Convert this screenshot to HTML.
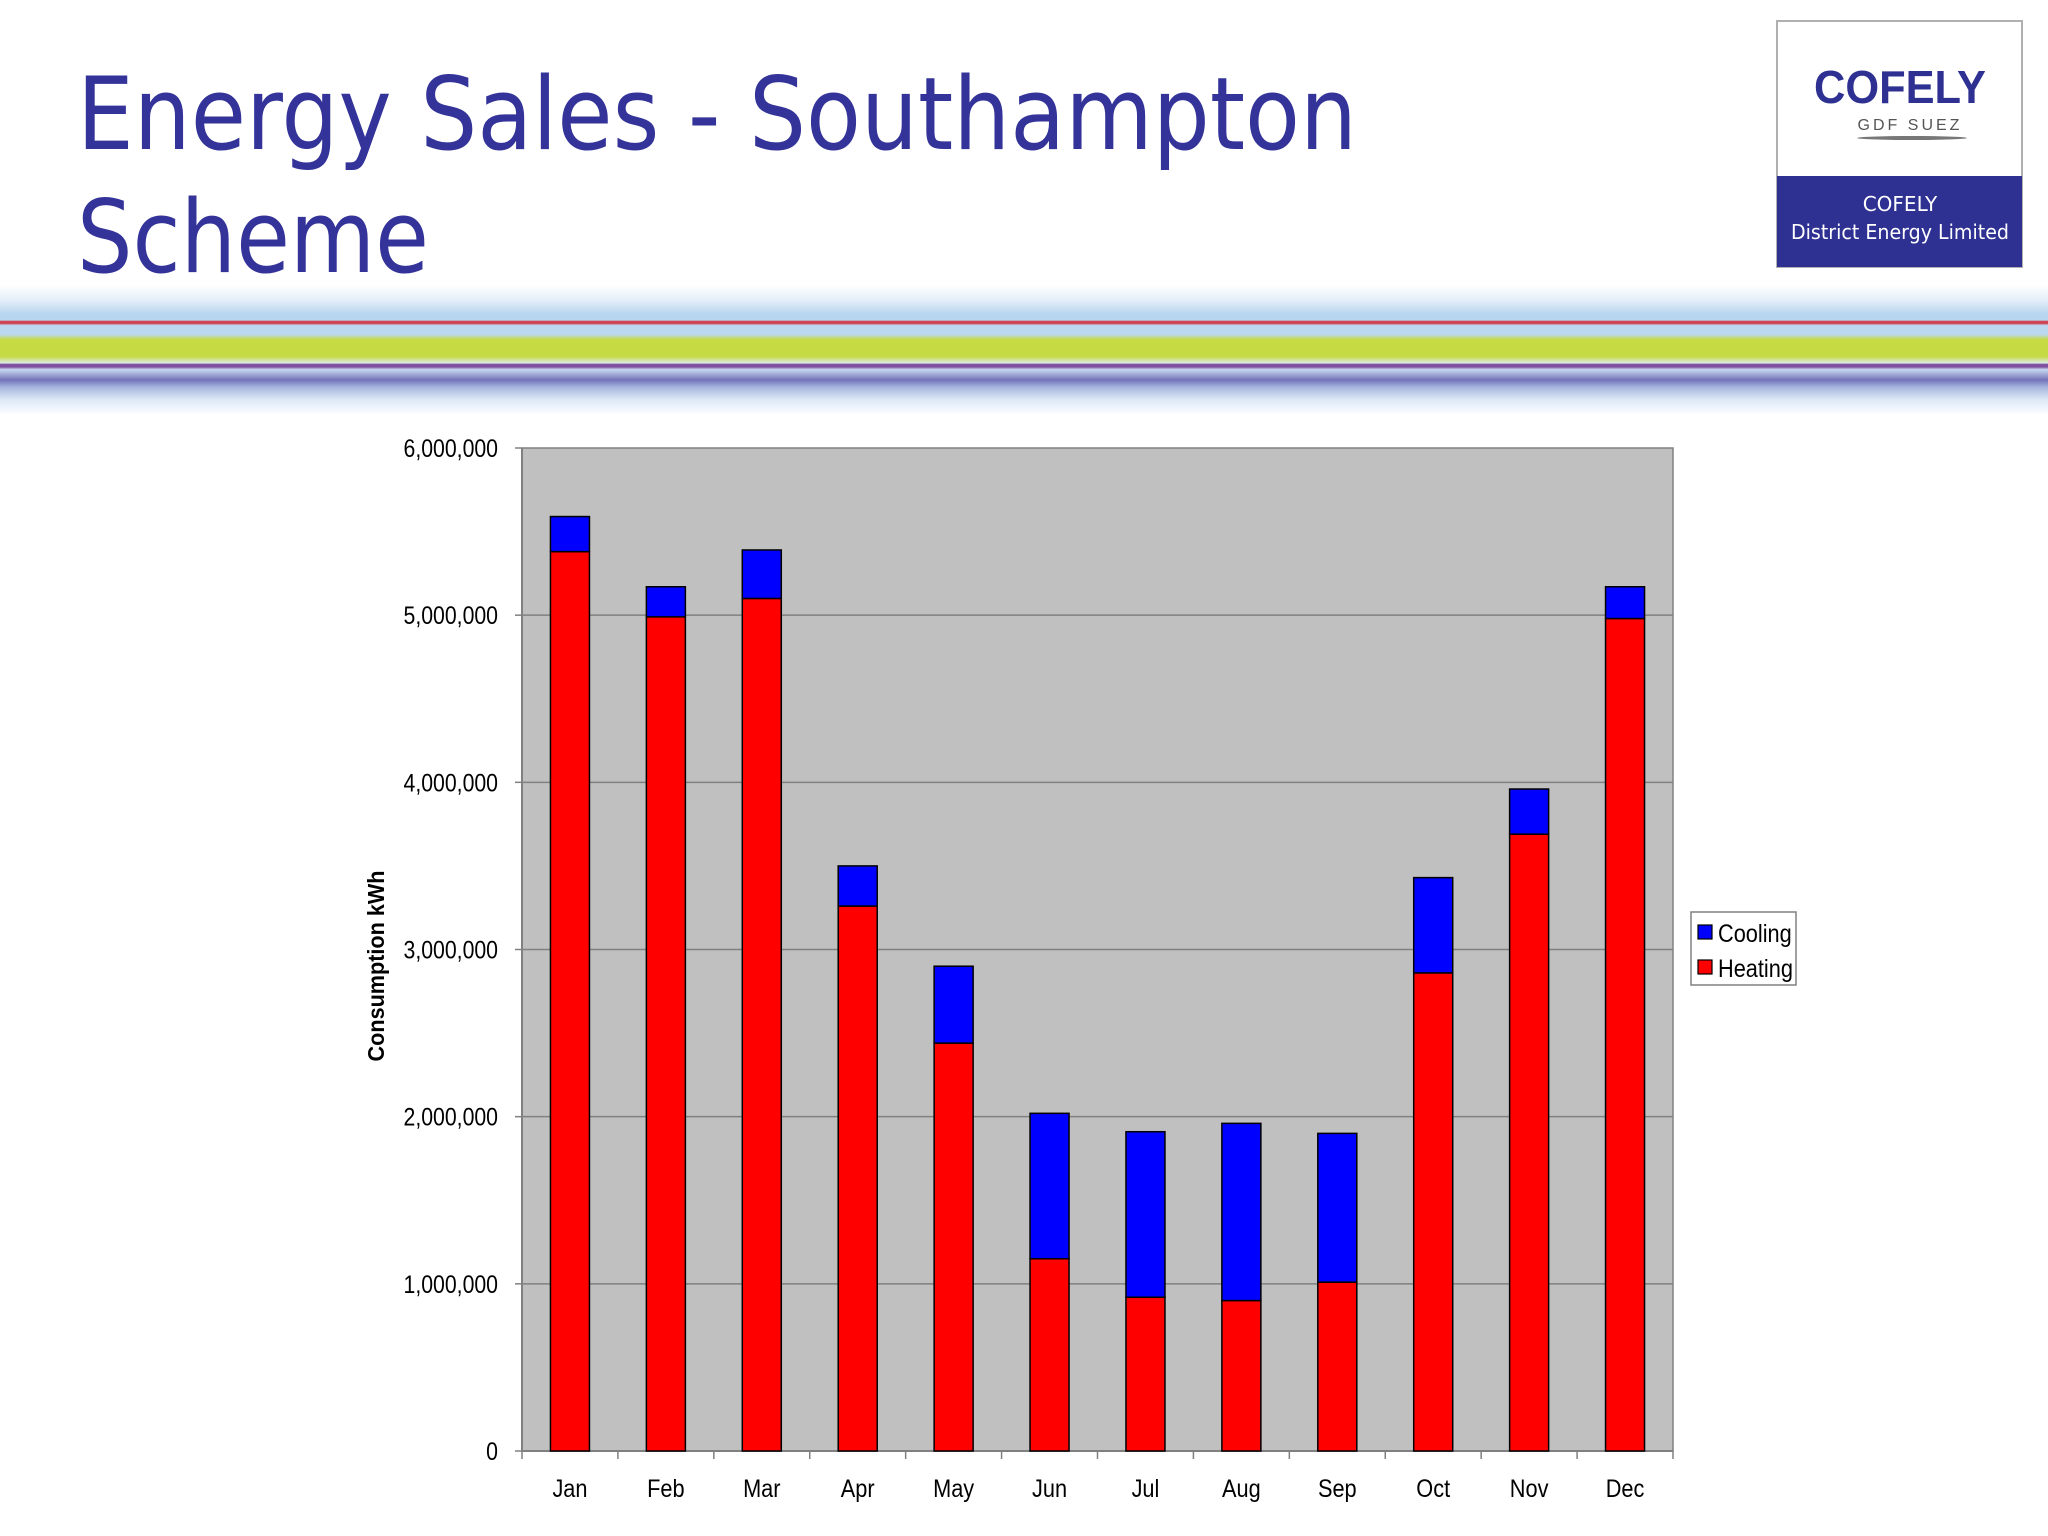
<!DOCTYPE html>
<html><head><meta charset="utf-8"><style>
html,body{margin:0;padding:0;background:#fff;}
svg{display:block;font-family:"Liberation Sans",Arial,sans-serif;}
</style></head><body>
<svg id="root" width="2048" height="1536" viewBox="0 0 2048 1536">
<defs>
<linearGradient id="stripes" x1="0" y1="285" x2="0" y2="415" gradientUnits="userSpaceOnUse">
<stop offset="0" stop-color="#ffffff"/>
<stop offset="0.12" stop-color="#e4eef9"/>
<stop offset="0.22" stop-color="#b8d6ef"/>
<stop offset="0.27" stop-color="#b8d6ef"/>
<stop offset="0.28" stop-color="#d04050"/>
<stop offset="0.295" stop-color="#d04050"/>
<stop offset="0.31" stop-color="#bcd8f0"/>
<stop offset="0.38" stop-color="#bcd8f0"/>
<stop offset="0.42" stop-color="#c6da44"/>
<stop offset="0.55" stop-color="#c6da44"/>
<stop offset="0.6" stop-color="#dcebe4"/>
<stop offset="0.61" stop-color="#8050a0"/>
<stop offset="0.63" stop-color="#8050a0"/>
<stop offset="0.65" stop-color="#c8d8f0"/>
<stop offset="0.73" stop-color="#7474ba"/>
<stop offset="0.79" stop-color="#a8b8e0"/>
<stop offset="0.88" stop-color="#dce8f6"/>
<stop offset="1" stop-color="#ffffff"/>
</linearGradient>
</defs>
<text x="77" y="149" font-family="DejaVu Sans, sans-serif" font-size="101" fill="#333399" textLength="1280" lengthAdjust="spacingAndGlyphs">Energy Sales - Southampton</text>
<text x="77" y="272" font-family="DejaVu Sans, sans-serif" font-size="101" fill="#333399" textLength="352" lengthAdjust="spacingAndGlyphs">Scheme</text>

<g>
<rect x="1777" y="21" width="245" height="246" fill="#fff" stroke="#b0b0b0" stroke-width="2"/>
<text x="1900" y="103" text-anchor="middle" font-size="46" font-weight="bold" fill="#2e3192" textLength="172" lengthAdjust="spacingAndGlyphs">COFELY</text>
<text x="1910" y="130" text-anchor="middle" font-size="16" fill="#555" letter-spacing="3">GDF SUEZ</text>
<ellipse cx="1912" cy="138" rx="55" ry="2" fill="#777"/>
<rect x="1777" y="176" width="245" height="91" fill="#2e3192"/>
<text x="1900" y="211" text-anchor="middle" font-family="DejaVu Sans, sans-serif" font-size="20" fill="#fff">COFELY</text>
<text x="1900" y="239" text-anchor="middle" font-family="DejaVu Sans, sans-serif" font-size="20" fill="#fff" textLength="218" lengthAdjust="spacingAndGlyphs">District Energy Limited</text>
</g>
<rect x="0" y="285" width="2048" height="130" fill="url(#stripes)"/>

<g id="chart"></g>
</svg>
<script>
const months = ["Jan","Feb","Mar","Apr","May","Jun","Jul","Aug","Sep","Oct","Nov","Dec"];
const heating = [5380000,4990000,5100000,3260000,2440000,1150000,920000,900000,1010000,2860000,3690000,4980000];
const cooling = [210000,180000,290000,240000,460000,870000,990000,1060000,890000,570000,270000,190000];
const yTicks = [0,1000000,2000000,3000000,4000000,5000000,6000000];
const yTickLabels = ["0","1,000,000","2,000,000","3,000,000","4,000,000","5,000,000","6,000,000"];

const NS = "http://www.w3.org/2000/svg";
const g = document.getElementById("chart");
const L = 522, R = 1673, T = 448, B = 1451, YMAX = 6000000;
const cw = (R - L) / months.length;
const y = v => B - (v / YMAX) * (B - T);
const xc = i => L + cw * (i + 0.5);
function mk(tag, attrs, parent) {
  const e = document.createElementNS(NS, tag);
  for (const k in attrs) e.setAttribute(k, attrs[k]);
  (parent || g).appendChild(e);
  return e;
}
const bg = mk("rect", {x: L, y: T, width: R - L, height: B - T, fill: "#c0c0c0", stroke: "#808080", "stroke-width": 1.5});


yTicks.forEach((v, i) => {
  if (v > 0 && v < YMAX) {
    const gl = mk("line", {x1: L, x2: R, y1: y(v), y2: y(v), stroke: "#808080", "stroke-width": 1.5});
    
    
  }
  mk("line", {x1: L - 7, x2: L, y1: y(v), y2: y(v), stroke: "#808080", "stroke-width": 1.5});
  const t = mk("text", {x: 0, y: 0, "text-anchor": "end", "font-size": 25, fill: "#000", transform: `translate(498,${y(v) + 9}) scale(0.85,1)`});
  t.textContent = yTickLabels[i];
  
  
});
for (let i = 0; i <= months.length; i++) {
  mk("line", {x1: L + cw * i, x2: L + cw * i, y1: B, y2: B + 8, stroke: "#808080", "stroke-width": 1.5});
}
mk("line", {x1: L, x2: L, y1: T, y2: B, stroke: "#808080", "stroke-width": 2});
mk("line", {x1: L, x2: R, y1: B, y2: B, stroke: "#808080", "stroke-width": 2});
const bw = 39;
months.forEach((m, i) => {
  const x0 = xc(i) - bw / 2;
  const hb = mk("rect", {x: x0, y: y(heating[i]), width: bw, height: B - y(heating[i]), fill: "#ff0000", stroke: "#000", "stroke-width": 1.5});
  
  
  const top = heating[i] + cooling[i];
  const cb = mk("rect", {x: x0, y: y(top), width: bw, height: y(heating[i]) - y(top), fill: "#0000ff", stroke: "#000", "stroke-width": 1.5});
  
  
  const t = mk("text", {x: 0, y: 0, "text-anchor": "middle", "font-size": 25, fill: "#000", transform: `translate(${xc(i)},1497) scale(0.87,1)`});
  t.textContent = m;
  
  
});
const yt = mk("text", {x: 0, y: 0, "text-anchor": "middle", "font-size": 23, "font-weight": "bold", fill: "#000", transform: "translate(384,966) rotate(-90) scale(0.94,1)"});
yt.textContent = "Consumption kWh";


const lg = mk("g", {});


mk("rect", {x: 1691, y: 912, width: 105, height: 73, fill: "#fff", stroke: "#808080", "stroke-width": 1.5}, lg);
[["Cooling", "#0000ff", 942], ["Heating", "#ff0000", 977]].forEach(([n, c, by]) => {
  const e = mk("g", {}, lg);
  
  
  mk("rect", {x: 1698, y: by - 17, width: 14, height: 14, fill: c, stroke: "#000", "stroke-width": 1.2}, e);
  const t = mk("text", {x: 0, y: 0, "font-size": 25, fill: "#000", transform: `translate(1718,${by}) scale(0.87,1)`}, e);
  t.textContent = n;
});
</script>
</body></html>
